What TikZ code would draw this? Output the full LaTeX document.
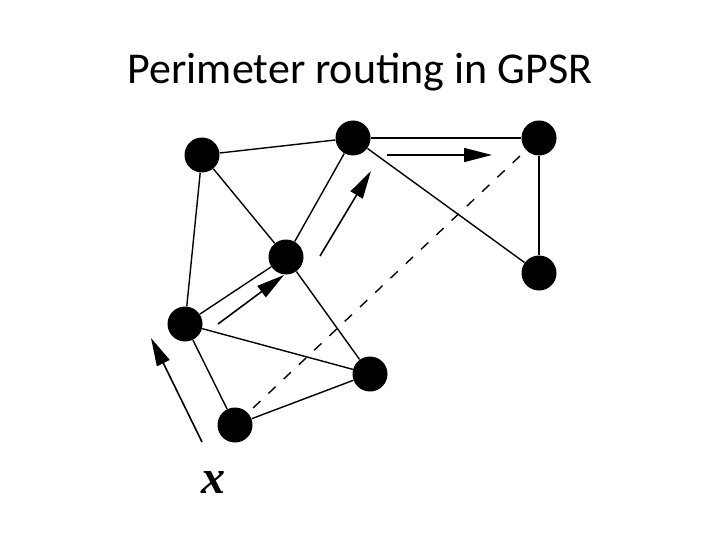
\documentclass[tikz,border=0pt]{standalone}
\usepackage{fontspec}
\usepackage{tikz}
\usetikzlibrary{arrows.meta}
\setmainfont{Carlito}
\newfontfamily\timesfont{Liberation Serif}
\tikzset{every picture/.style={line width=0.75pt}}

\begin{document}
\begin{tikzpicture}[
    x=1pt, y=-1pt,
    vertex/.style={
        circle, fill=black, draw=none, inner sep=0pt, minimum size=35pt
    },
    link/.style={line width=1.4pt},
    virtual/.style={line width=1.4pt, dash pattern=on 10pt off 11pt,
        shorten <=7pt, shorten >=7pt},
    hop/.style={line width=1.6pt, -{Triangle[length=28pt, width=14pt]}},
]

%% ===================== FRAME =====================
\useasboundingbox (0,0) rectangle (720,540);

\node[font=\fontsize{44}{50}\selectfont] (title) at (360,72) {Perimeter routing in GPSR};

%% ===================== VERTICES =====================
\node[vertex] (A) at (202,155) {};
\node[vertex] (B) at (353,138) {};
\node[vertex] (C) at (539,138) {};
\node[vertex] (D) at (539,273) {};
\node[vertex] (E) at (286,257) {};
\node[vertex] (F) at (185,324) {};
\node[vertex] (G) at (370,374) {};
\node[vertex] (H) at (235,425) {};

%% ===================== LINKS =====================
\foreach \u/\v in {A/B, A/F, A/E, B/C, B/E, B/D, C/D, E/F, E/G, F/G, F/H, H/G} {
  \draw[link] (\u) -- (\v);
}

%% straight line towards destination
\draw[virtual] (H) -- (C);

%% ===================== FORWARDING STEPS =====================
\coordinate (s0) at (202,442);
\coordinate (t0) at (151,338);
\coordinate (s1) at (218,324);
\coordinate (t1) at (284,275);
\coordinate (s2) at (320,256);
\coordinate (t2) at (371,171);
\coordinate (s3) at (387,155);
\coordinate (t3) at (492,155);

\foreach \i in {0,1,2,3} {
  \draw[hop] (s\i) -- (t\i);
}

% source label
\node[font=\timesfont\bfseries\itshape\fontsize{48}{50}\selectfont] (lx) at (213,482) {x};

\end{tikzpicture}
\end{document}
